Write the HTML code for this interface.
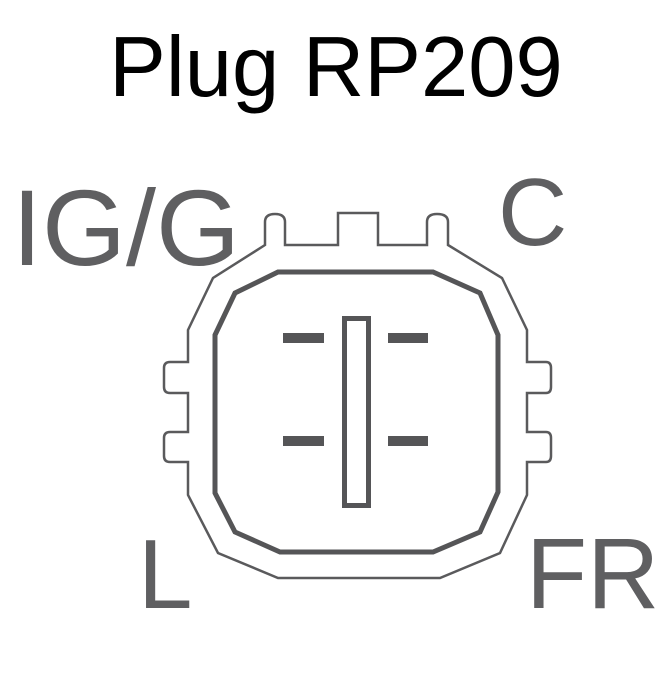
<!DOCTYPE html>
<html><head><style>
body{margin:0;background:#fff;}
svg{display:block;}
</style></head><body>
<svg width="669" height="700" viewBox="0 0 669 700" xmlns="http://www.w3.org/2000/svg">
<text x="336" y="96" text-anchor="middle" font-family="Liberation Sans, sans-serif" font-size="85" fill="#000">Plug RP209</text>
<g font-family="Liberation Sans, sans-serif" fill="#5f5f61">
<text x="12" y="265" font-size="108">IG/G</text>
<text x="498" y="245" font-size="96">C</text>
<text x="138" y="608" font-size="98">L</text>
<text x="526" y="608" font-size="100">FR</text>
</g>
<path d="M265,245 L265,222 Q265,214 275,214 Q285,214 285,222 L285,245 L338,245 L338,213 L378,213 L378,245 L427,245 L427,222 Q427,214 437,214 Q448,214 448,222 L448,245 L502,278 L527,330 L527,362 L546,362 Q551,362 551,368 L551,387 Q551,393 546,393 L527,393 L527,432 L546,432 Q551,432 551,438 L551,456 Q551,462 546,462 L527,462 L527,495 L500,553 L440,578 L278,578 L218,553 L188,495 L188,462 L170,462 Q164,462 164,456 L164,438 Q164,432 170,432 L188,432 L188,393 L170,393 Q164,393 164,387 L164,368 Q164,362 170,362 L188,362 L188,330 L213,278 Z" fill="none" stroke="#5a5a5c" stroke-width="2.5" stroke-linejoin="miter"/>
<path d="M278,272 L433,272 L480,293 L498,335 L498,492 L480,532 L433,552 L280,552 L235,532 L215,493 L215,335 L235,293 Z" fill="none" stroke="#555557" stroke-width="5"/>
<g fill="#555557">
<rect x="283" y="333" width="41" height="10"/>
<rect x="388" y="333" width="40" height="10"/>
<rect x="283" y="436" width="41" height="10"/>
<rect x="388" y="436" width="40" height="10"/>
</g>
<rect x="344.5" y="318.5" width="24" height="187" fill="none" stroke="#555557" stroke-width="5"/>
</svg>
</body></html>
